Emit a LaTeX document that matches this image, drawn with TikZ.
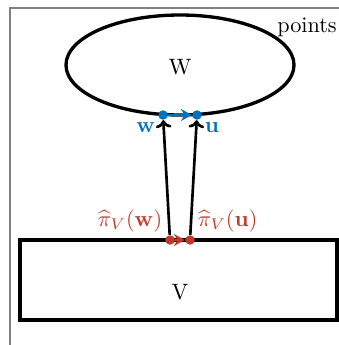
\documentclass[tikz,border=0pt]{standalone}
\usepackage{amsmath, amssymb}
\usepackage{tikz}
\usetikzlibrary{arrows.meta}
\definecolor{ptblue}{RGB}{0,114,189}
\definecolor{ptred}{RGB}{192,57,43}

\begin{document}
\begin{tikzpicture}[x=0.45pt,y=-0.45pt,
            bd/.style={circle,fill=ptblue,inner sep=1.5pt},
            rd/.style={circle,fill=ptred,inner sep=1.5pt},
            lift/.style={-{To[length=3.5pt,width=7pt]},line width=1.2pt},
            mv/.style={-{Stealth[length=5pt,width=5.5pt,inset=1.8pt]},line width=1.3pt}]

            \clip (0,0) rectangle (339,345);

            % the ambient frame of points
            \draw[gray,line width=0.5pt] (10,8) rectangle (360,360);
            \node (pts) at (307,27) {points};

            % the two sets W and V
            \draw[line width=1.5pt] (180,65) ellipse [x radius=114, y radius=50];
            \node (W) at (180,67) {W};
            \draw[line width=1.5pt] (20,240) rectangle (337,320);
            \node (V) at (180,292) {V};

            % w and u on the boundary of W
            \node[bd] (w) at (163,115) {};
            \node[bd] (u) at (197,115) {};
            \node[below left=0pt,text=ptblue] at (w) {$\mathbf{w}$};
            \node[below right=0pt,text=ptblue] at (u) {$\mathbf{u}$};

            % their images on the top edge of V
            \node[rd] (pw) at (170,240) {};
            \node[rd] (pu) at (190,240) {};
            \node[above left=0pt,text=ptred] at (pw) {$\widehat{\pi}_V(\mathbf{w})$};
            \node[above right=0pt,text=ptred] at (pu) {$\widehat{\pi}_V(\mathbf{u})$};

            \draw[lift] (pw)--(w); \draw[lift] (pu)--(u);
            \draw[mv,ptblue] (w.center)--(u);
            \draw[mv,ptred] (pw.center)--(pu);
        \end{tikzpicture}
\end{document}
